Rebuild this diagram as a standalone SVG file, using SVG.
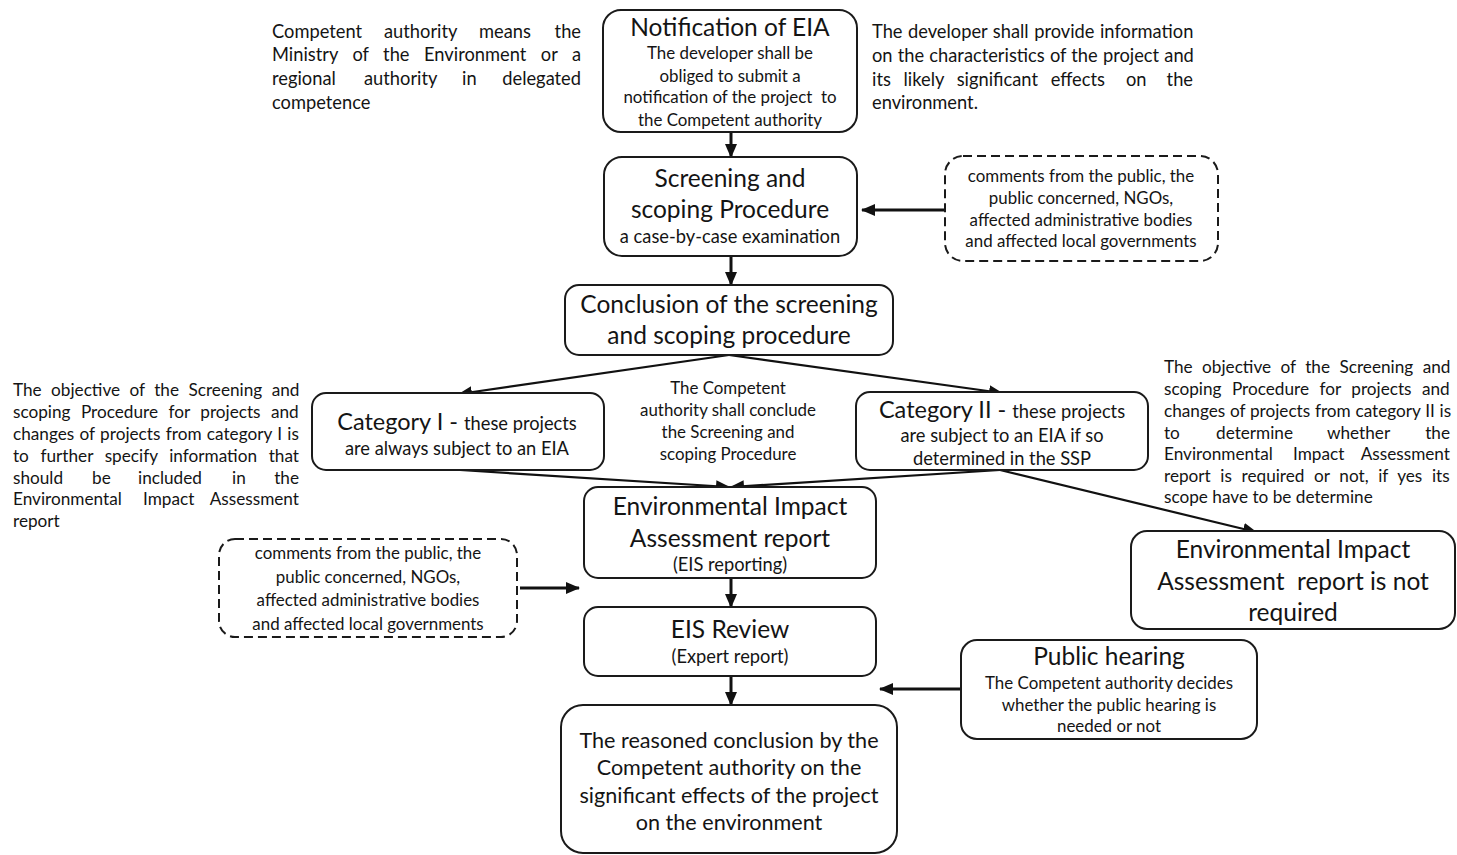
<svg xmlns="http://www.w3.org/2000/svg" width="1457" height="855" viewBox="0 0 1457 855">
<style>
text{font-family:Lato,"Open Sans","Liberation Sans",sans-serif;fill:#141414}
.box{fill:#fff;stroke:#1a1a1a;stroke-width:2}
.dash{fill:#fff;stroke:#1a1a1a;stroke-width:2;stroke-dasharray:9 5}
.t{font-size:24.5px;text-anchor:middle}
.s{font-size:16.9px;text-anchor:middle}
.m{font-size:18.3px;text-anchor:middle}
.p{font-size:17.2px}
.q{font-size:18.3px}
.e{text-anchor:end}
.c{stroke:#111;fill:none}
.v{stroke-width:3}
.d{stroke-width:2.2}
</style>
<defs>
<marker id="ah" markerUnits="userSpaceOnUse" markerWidth="14" markerHeight="12" refX="13" refY="6" orient="auto">
<path d="M0,0 L14,6 L0,12 Z" fill="#111"/>
</marker>
</defs>

<g id="connectors">
<line class="c v" x1="731" y1="132" x2="731" y2="157" marker-end="url(#ah)"/>
<line class="c v" x1="731" y1="256" x2="731" y2="285" marker-end="url(#ah)"/>
<line class="c v" x1="945" y1="210" x2="862" y2="210" marker-end="url(#ah)"/>
<line class="c d" x1="729" y1="355" x2="459" y2="394" marker-end="url(#ah)"/>
<line class="c d" x1="729" y1="355" x2="1002" y2="393" marker-end="url(#ah)"/>
<line class="c d" x1="460" y1="470" x2="729" y2="487" marker-end="url(#ah)"/>
<line class="c d" x1="1000" y1="470" x2="731" y2="487" marker-end="url(#ah)"/>
<line class="c d" x1="1000" y1="470" x2="1256" y2="532" marker-end="url(#ah)"/>
<line class="c v" x1="731" y1="578" x2="731" y2="607" marker-end="url(#ah)"/>
<line class="c v" x1="520" y1="588" x2="579" y2="588" marker-end="url(#ah)"/>
<line class="c v" x1="731" y1="676" x2="731" y2="705" marker-end="url(#ah)"/>
<line class="c v" x1="961" y1="689" x2="880" y2="689" marker-end="url(#ah)"/>
</g>

<g id="note-competent-authority">
<text class="q" y="38"><tspan x="272">Competent</tspan><tspan x="384">authority</tspan><tspan x="479">means</tspan><tspan x="581" class="e">the</tspan></text>
<text class="q" x="272" y="61"><tspan>Ministry</tspan><tspan dx="9.8"> of</tspan><tspan dx="9.8"> the</tspan><tspan dx="9.8"> Environment</tspan><tspan dx="9.8"> or</tspan><tspan dx="9.8"> a</tspan></text>
<text class="q" y="85"><tspan x="272">regional</tspan><tspan x="364">authority</tspan><tspan x="462">in</tspan><tspan x="581" class="e">delegated</tspan></text>
<text class="q" x="272" y="109">competence</text>
</g>

<g id="n-notification">
<rect class="box" x="603" y="10" width="254" height="122" rx="18"/>
<text class="t" x="730" y="36">Notification of EIA</text>
<text class="s" x="730" y="59">The developer shall be</text>
<text class="s" x="730" y="82">obliged to submit a</text>
<text class="s" x="730" y="103" xml:space="preserve">notification of the project  to</text>
<text class="s" x="730" y="126">the Competent authority</text>
</g>

<g id="note-developer-info">
<text class="q" x="872" y="38"><tspan>The</tspan><tspan dx="0.8"> developer</tspan><tspan dx="0.8"> shall</tspan><tspan dx="0.8"> provide</tspan><tspan dx="0.8"> information</tspan></text>
<text class="q" x="872" y="62"><tspan>on</tspan><tspan dx="0.5"> the</tspan><tspan dx="0.5"> characteristics</tspan><tspan dx="0.5"> of</tspan><tspan dx="0.5"> the</tspan><tspan dx="0.5"> project</tspan><tspan dx="0.5"> and</tspan></text>
<text class="q" x="872" y="86"><tspan>its</tspan><tspan dx="8"> likely</tspan><tspan dx="8"> significant</tspan><tspan dx="8"> effects</tspan><tspan x="1126">on</tspan><tspan x="1193" class="e">the</tspan></text>
<text class="q" x="872" y="109">environment.</text>
</g>

<g id="n-screening">
<rect class="box" x="604" y="157" width="253" height="99" rx="18"/>
<text class="t" x="730" y="187">Screening and</text>
<text class="t" x="730" y="218">scoping Procedure</text>
<text class="m" x="730" y="243">a case-by-case examination</text>
</g>

<g id="n-comments-1">
<rect class="dash" x="945" y="156" width="273" height="105" rx="18"/>
<text class="s" x="1081" y="182">comments from the public, the</text>
<text class="s" x="1081" y="204">public concerned, NGOs,</text>
<text class="s" x="1081" y="226">affected administrative bodies</text>
<text class="s" x="1081" y="247">and affected local governments</text>
</g>

<g id="n-conclusion">
<rect class="box" x="565" y="285" width="328" height="70" rx="14"/>
<text class="t" x="729" y="313">Conclusion of the screening</text>
<text class="t" x="729" y="344">and scoping procedure</text>
</g>

<g id="note-competent-conclude">
<text class="s" x="728" y="394">The Competent</text>
<text class="s" x="728" y="416">authority shall conclude</text>
<text class="s" x="728" y="438">the Screening and</text>
<text class="s" x="728" y="460">scoping Procedure</text>
</g>

<g id="note-objective-cat1">
<text class="p" x="13" y="396"><tspan>The</tspan><tspan dx="5"> objective</tspan><tspan dx="5"> of</tspan><tspan dx="5"> the</tspan><tspan dx="5"> Screening</tspan><tspan dx="5"> and</tspan></text>
<text class="p" x="13" y="418"><tspan>scoping</tspan><tspan dx="6"> Procedure</tspan><tspan dx="6"> for</tspan><tspan dx="6"> projects</tspan><tspan dx="6"> and</tspan></text>
<text class="p" x="13" y="440"><tspan>changes</tspan><tspan dx="0.9"> of</tspan><tspan dx="0.9"> projects</tspan><tspan dx="0.9"> from</tspan><tspan dx="0.9"> category</tspan><tspan dx="0.9"> I</tspan><tspan dx="0.9"> is</tspan></text>
<text class="p" x="13" y="462"><tspan>to</tspan><tspan dx="7.2"> further</tspan><tspan dx="7.2"> specify</tspan><tspan dx="7.2"> information</tspan><tspan dx="7.2"> that</tspan></text>
<text class="p" y="484"><tspan x="13">should</tspan><tspan x="92">be</tspan><tspan x="138">included</tspan><tspan x="232">in</tspan><tspan x="299" class="e">the</tspan></text>
<text class="p" y="505"><tspan x="13">Environmental</tspan><tspan x="143">Impact</tspan><tspan x="299" class="e">Assessment</tspan></text>
<text class="p" x="13" y="527">report</text>
</g>

<g id="n-category-1">
<rect class="box" x="312" y="393" width="292" height="77" rx="14"/>
<text class="m" x="457" y="430"><tspan style="font-size:23.5px">Category I - </tspan><tspan>these projects</tspan></text>
<text class="m" x="457" y="455">are always subject to an EIA</text>
</g>

<g id="n-category-2">
<rect class="box" x="856" y="392" width="292" height="78" rx="14"/>
<text class="m" x="1002" y="418"><tspan style="font-size:23.5px">Category II - </tspan><tspan>these projects</tspan></text>
<text class="m" x="1002" y="442">are subject to an EIA if so</text>
<text class="m" x="1002" y="465">determined in the SSP</text>
</g>

<g id="note-objective-cat2">
<text class="p" x="1164" y="373"><tspan>The</tspan><tspan dx="5"> objective</tspan><tspan dx="5"> of</tspan><tspan dx="5"> the</tspan><tspan dx="5"> Screening</tspan><tspan dx="5"> and</tspan></text>
<text class="p" x="1164" y="395"><tspan>scoping</tspan><tspan dx="6"> Procedure</tspan><tspan dx="6"> for</tspan><tspan dx="6"> projects</tspan><tspan dx="6"> and</tspan></text>
<text class="p" x="1164" y="417"><tspan>changes</tspan><tspan dx="0.3"> of</tspan><tspan dx="0.3"> projects</tspan><tspan dx="0.3"> from</tspan><tspan dx="0.3"> category</tspan><tspan dx="0.3"> II</tspan><tspan dx="0.3"> is</tspan></text>
<text class="p" y="439"><tspan x="1164">to</tspan><tspan x="1216">determine</tspan><tspan x="1327">whether</tspan><tspan x="1450" class="e">the</tspan></text>
<text class="p" y="460"><tspan x="1164">Environmental</tspan><tspan x="1293">Impact</tspan><tspan x="1450" class="e">Assessment</tspan></text>
<text class="p" x="1164" y="482"><tspan>report</tspan><tspan dx="5.2"> is</tspan><tspan dx="5.2"> required</tspan><tspan dx="5.2"> or</tspan><tspan dx="5.2"> not,</tspan><tspan dx="5.2"> if</tspan><tspan dx="5.2"> yes</tspan><tspan dx="5.2"> its</tspan></text>
<text class="p" x="1164" y="503">scope have to be determine</text>
</g>

<g id="n-eia-report">
<rect class="box" x="584" y="487" width="292" height="91" rx="14"/>
<text class="t" x="730" y="515">Environmental Impact</text>
<text class="t" x="730" y="547">Assessment report</text>
<text class="m" x="730" y="571">(EIS reporting)</text>
</g>

<g id="n-comments-2">
<rect class="dash" x="219" y="539" width="298" height="98" rx="16"/>
<text class="s" x="368" y="559">comments from the public, the</text>
<text class="s" x="368" y="583">public concerned, NGOs,</text>
<text class="s" x="368" y="606">affected administrative bodies</text>
<text class="s" x="368" y="630">and affected local governments</text>
</g>

<g id="n-not-required">
<rect class="box" x="1131" y="531" width="324" height="98" rx="16"/>
<text class="t" x="1293" y="558">Environmental Impact</text>
<text class="t" x="1293" y="590" xml:space="preserve">Assessment  report is not</text>
<text class="t" x="1293" y="621">required</text>
</g>

<g id="n-eis-review">
<rect class="box" x="584" y="607" width="292" height="69" rx="14"/>
<text class="t" x="730" y="638">EIS Review</text>
<text class="m" x="730" y="663">(Expert report)</text>
</g>

<g id="n-public-hearing">
<rect class="box" x="961" y="640" width="296" height="99" rx="16"/>
<text class="t" x="1109" y="665">Public hearing</text>
<text class="s" x="1109" y="689">The Competent authority decides</text>
<text class="s" x="1109" y="711">whether the public hearing is</text>
<text class="s" x="1109" y="732">needed or not</text>
</g>

<g id="n-reasoned-conclusion">
<rect class="box" x="561" y="705" width="336" height="148" rx="22"/>
<text class="t" x="729" y="748" style="font-size:21.6px">The reasoned conclusion by the</text>
<text class="t" x="729" y="775" style="font-size:21.6px">Competent authority on the</text>
<text class="t" x="729" y="803" style="font-size:21.6px">significant effects of the project</text>
<text class="t" x="729" y="830" style="font-size:21.6px">on the environment</text>
</g>
</svg>
